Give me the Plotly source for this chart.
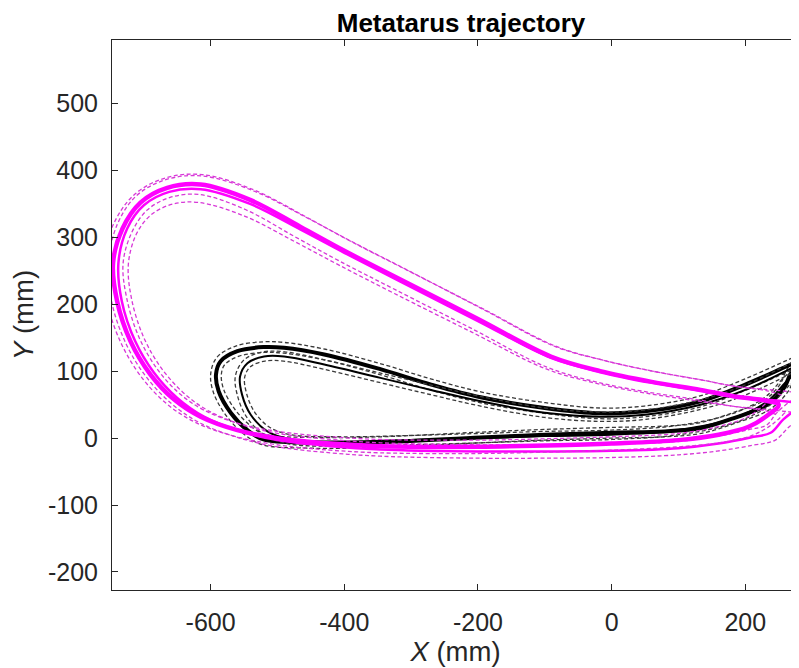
import numpy as np
import plotly.graph_objects as go

# ---- data (mm) ----
# magenta, thick mean trajectory
MA_X = [250, 230, 180, 133, 60, -17, -91, -200, -316, -400, -466, -541, -615, -665, -705, -732, -746, -740,
        -720, -690, -655, -615, -560, -500, -420, -346, -200, -100, 0, 100, 160, 205, 232, 250]
MA_Y = [50, 56, 63, 72, 84, 100, 122, 178, 237, 280, 316, 356, 379, 374, 352, 313, 262, 205,
        145, 95, 58, 32, 12, 0, -8, -12, -13, -11, -8, -3, 5, 17, 33, 50]
MA_SD = [15, 15, 15, 15, 16, 17, 17, 17, 17, 17, 17, 16, 15, 15, 15, 15, 15, 15,
         14, 13, 12, 11, 10, 10, 10, 10, 10, 10, 10, 10, 12, 14, 15, 15]

# magenta, thin mean trajectory
MB_X = [300, 280, 250, 180, 133, 60, -17, -91, -200, -316, -400, -466, -541, -615, -662, -700, -725, -738,
        -733, -713, -685, -650, -610, -555, -500, -420, -346, -200, -100, 0, 100, 160, 208, 238, 257, 280, 300]
MB_Y = [52, 53, 56, 63, 71, 83, 99, 120, 175, 234, 277, 312, 350, 372, 368, 348, 313, 262,
        205, 145, 98, 60, 32, 10, -3, -12, -17, -20, -20, -19, -15, -8, 1, 8, 28, 45, 52]
MB_SD = [15, 15, 15, 15, 16, 17, 18, 18, 19, 20, 20, 20, 20, 20, 19, 18, 16, 15,
         15, 14, 13, 12, 11, 10, 10, 10, 10, 10, 10, 10, 10, 11, 12, 13, 14, 15, 15]

# black, thick mean trajectory
BA_X = [310, 268, 200, 133, 50, -17, -100, -196, -270, -346, -430, -490, -521, -560, -585, -592,
        -588, -570, -545, -521, -450, -346, -196, -100, 0, 80, 133, 183, 233, 258, 272, 310]
BA_Y = [128, 110, 80, 55, 40, 37, 45, 61, 80, 103, 125, 135, 136, 130, 115, 95,
        70, 38, 12, -2, -7, -6, 1, 5, 8, 10, 15, 30, 50, 75, 103, 128]
BA_SD = 8

# black, thin mean trajectory
BB_X = [300, 268, 200, 133, 50, -17, -100, -196, -270, -346, -430, -490, -520, -545, -556,
        -553, -540, -515, -480, -400, -300, -196, -100, 0, 100, 183, 233, 262, 300]
BB_Y = [120, 104, 72, 50, 35, 32, 38, 55, 72, 90, 110, 122, 122, 112, 92,
        65, 35, 10, -2, -5, -3, 0, 3, 5, 12, 30, 55, 85, 120]
BB_SD = 7

X_TICKS = [-600, -400, -200, 0, 200]
Y_TICKS = [-200, -100, 0, 100, 200, 300, 400, 500]
X_RANGE = [-747.6, 280.4]
Y_RANGE = [-227, 595]

MAGENTA = "#FF00FF"
MAGENTA_D = "#D838D8"
BLACK = "#000000"
BLACK_D = "#3A3A3A"


def band(x, y, sd):
    """mean +/- sd along the local normal of the trajectory"""
    x = np.asarray(x, float)
    y = np.asarray(y, float)
    sd = np.broadcast_to(np.asarray(sd, float), x.shape)
    tx = np.gradient(x)
    ty = np.gradient(y)
    n = np.hypot(tx, ty)
    n[n == 0] = 1
    nx, ny = -ty / n, tx / n
    return (x + sd * nx, y + sd * ny), (x - sd * nx, y - sd * ny)


fig = go.Figure()


def add_group(x, y, sd, color, dcolor, width):
    for bx, by in band(x, y, sd):
        fig.add_trace(go.Scatter(x=bx, y=by, mode="lines",
                                 line=dict(color=dcolor, width=1.3, dash="4px,2.5px", shape="spline"),
                                 hoverinfo="skip", showlegend=False))
    fig.add_trace(go.Scatter(x=x, y=y, mode="lines",
                             line=dict(color=color, width=width, shape="spline"),
                             showlegend=False))


add_group(BA_X, BA_Y, BA_SD, BLACK, BLACK_D, 4)
add_group(BB_X, BB_Y, BB_SD, BLACK, BLACK_D, 2)
add_group(MB_X, MB_Y, MB_SD, MAGENTA, MAGENTA_D, 2.5)
add_group(MA_X, MA_Y, MA_SD, MAGENTA, MAGENTA_D, 4.5)

AX = "#262626"
FONT = "Liberation Sans, Arial, Helvetica, sans-serif"

# the page body has an 8px margin, so the figure is placed at (8, 8) in the window
W, H = 791, 660

fig.update_layout(
    width=W, height=H,
    margin=dict(l=104, r=0, t=32, b=78, autoexpand=False),
    paper_bgcolor="white", plot_bgcolor="white",
    font=dict(family=FONT, color=AX, size=25),
    title=dict(text="<b>Metatarus trajectory</b>", x=453 / W, xref="container",
               y=1 - 14.5 / H, yref="container", yanchor="middle", xanchor="center",
               font=dict(size=26, color="#000000", family=FONT)),
    xaxis=dict(range=X_RANGE, tickvals=X_TICKS, ticktext=[str(v) for v in X_TICKS],
               showgrid=False, zeroline=False, showline=True, linecolor=AX, linewidth=1,
               mirror="ticks", ticks="inside", ticklen=6, tickcolor=AX, tickwidth=1,
               automargin=False,
               tickfont=dict(size=25, color=AX), ticklabelstandoff=10,
               title=dict(text="<i>X</i> (mm)", font=dict(size=27.5, color=AX), standoff=3)),
    yaxis=dict(range=Y_RANGE, tickvals=Y_TICKS, ticktext=[str(v) for v in Y_TICKS],
               showgrid=False, zeroline=False, showline=True, linecolor=AX, linewidth=1,
               mirror="ticks", ticks="inside", ticklen=6, tickcolor=AX, tickwidth=1,
               automargin=False,
               tickfont=dict(size=25, color=AX), ticklabelstandoff=8,
               title=dict(text="<i>Y</i> (mm)", font=dict(size=27.5, color=AX), standoff=6)),
)

fig.write_html("out.html")
